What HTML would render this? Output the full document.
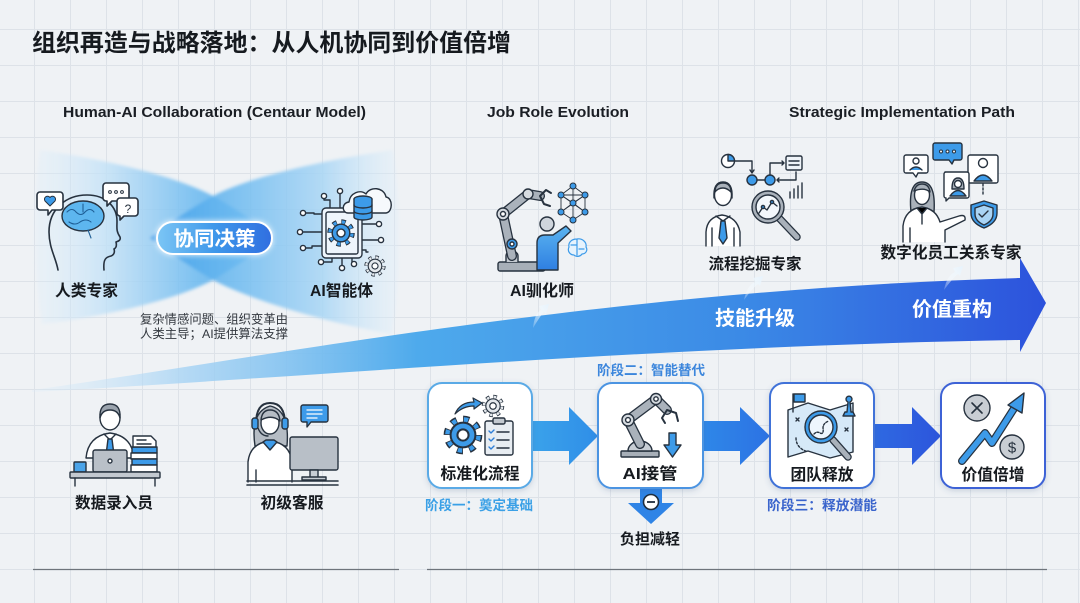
<!DOCTYPE html>
<html><head><meta charset="utf-8">
<style>
html,body{margin:0;padding:0;width:1080px;height:603px;overflow:hidden;background:#eff2f5;}
svg{display:block;}
text{font-family:"Liberation Sans","Noto Sans CJK SC",sans-serif;}
</style></head><body>
<svg width="1080" height="603" viewBox="0 0 1080 603" xmlns="http://www.w3.org/2000/svg">
<defs>
 <pattern id="grid" x="34" y="29" width="36" height="36" patternUnits="userSpaceOnUse">
   <path d="M0 0.5H36M0.5 0V36" stroke="#dde2e8" stroke-width="1" fill="none"/>
 </pattern>
 <linearGradient id="bwL" x1="35" y1="0" x2="280" y2="0" gradientUnits="userSpaceOnUse">
  <stop offset="0" stop-color="#dcedfa" stop-opacity="0.25"/>
  <stop offset="0.3" stop-color="#bfe0f7" stop-opacity="0.8"/>
  <stop offset="0.65" stop-color="#6cbaf0" stop-opacity="0.85"/>
  <stop offset="1" stop-color="#3c9ce8" stop-opacity="0.85"/>
 </linearGradient>
 <linearGradient id="bwR" x1="398" y1="0" x2="150" y2="0" gradientUnits="userSpaceOnUse">
  <stop offset="0" stop-color="#dcedfa" stop-opacity="0.3"/>
  <stop offset="0.3" stop-color="#a9d6f5" stop-opacity="0.85"/>
  <stop offset="0.65" stop-color="#6cbaf0" stop-opacity="0.85"/>
  <stop offset="1" stop-color="#3c9ce8" stop-opacity="0.85"/>
 </linearGradient>
 <filter id="soft" x="-10%" y="-10%" width="120%" height="120%"><feGaussianBlur stdDeviation="1.5"/></filter>
 <linearGradient id="bigA" x1="32" y1="0" x2="1046" y2="0" gradientUnits="userSpaceOnUse">
  <stop offset="0" stop-color="#d6ebfa" stop-opacity="0.2"/>
  <stop offset="0.15" stop-color="#a6d3f4" stop-opacity="0.8"/>
  <stop offset="0.38" stop-color="#4eaaec"/>
  <stop offset="0.7" stop-color="#3b8ae6"/>
  <stop offset="1" stop-color="#2c52dc"/>
 </linearGradient>
 <linearGradient id="pill" x1="0" y1="0" x2="1" y2="0">
  <stop offset="0" stop-color="#7cc6f5"/>
  <stop offset="0.5" stop-color="#3f98ea"/>
  <stop offset="1" stop-color="#2f6ee0"/>
 </linearGradient>
 <linearGradient id="ar1" x1="0" y1="0" x2="1" y2="0">
  <stop offset="0" stop-color="#3ba3ea"/><stop offset="1" stop-color="#2f8ee8"/>
 </linearGradient>
 <linearGradient id="ar2" x1="0" y1="0" x2="1" y2="0">
  <stop offset="0" stop-color="#2f88e8"/><stop offset="1" stop-color="#2c72e4"/>
 </linearGradient>
 <linearGradient id="ar3" x1="0" y1="0" x2="1" y2="0">
  <stop offset="0" stop-color="#2e6ae2"/><stop offset="1" stop-color="#2d55dc"/>
 </linearGradient>
 <linearGradient id="pb" x1="0" y1="0" x2="0" y2="1">
  <stop offset="0" stop-color="#5ab4f0"/><stop offset="1" stop-color="#2f7fe2"/>
 </linearGradient>
 <linearGradient id="hook" x1="0" y1="1" x2="1" y2="0">
  <stop offset="0" stop-color="#ffffff" stop-opacity="0.2"/><stop offset="1" stop-color="#e6f3fd"/>
 </linearGradient>
 <filter id="sh" x="-20%" y="-20%" width="140%" height="150%">
  <feDropShadow dx="0" dy="2" stdDeviation="3" flood-color="#3d5d88" flood-opacity="0.22"/>
 </filter>
 <filter id="glow" x="-20%" y="-40%" width="140%" height="180%">
  <feDropShadow dx="0" dy="0" stdDeviation="3" flood-color="#ffffff" flood-opacity="0.9"/>
 </filter>
 <g id="gearB">
  <circle r="9.5" fill="none" stroke="#27323f" stroke-width="6" stroke-dasharray="3.6 3.86"/>
  <circle r="9.5" fill="none" stroke="#3d9be9" stroke-width="4" stroke-dasharray="2.6 4.86" stroke-dashoffset="-0.5"/>
  <circle r="8" fill="#3d9be9" stroke="#27323f" stroke-width="1.3"/>
  <circle r="3.6" fill="#fff" stroke="#27323f" stroke-width="1.3"/>
 </g>
 <g id="gearG">
  <circle r="9.5" fill="none" stroke="#27323f" stroke-width="6" stroke-dasharray="3.6 3.86"/>
  <circle r="9.5" fill="none" stroke="#e4e8ec" stroke-width="4" stroke-dasharray="2.6 4.86" stroke-dashoffset="-0.5"/>
  <circle r="8" fill="#e4e8ec" stroke="#27323f" stroke-width="1.3"/>
  <circle r="3.6" fill="#fff" stroke="#27323f" stroke-width="1.3"/>
 </g>
</defs>

<rect width="1080" height="603" fill="#eff2f5"/>
<rect width="1080" height="603" fill="url(#grid)"/>

<!-- Title -->
<text x="32" y="51" font-size="24" font-weight="bold" fill="#161a1f" textLength="479" lengthAdjust="spacingAndGlyphs">组织再造与战略落地：从人机协同到价值倍增</text>

<!-- headings -->
<text x="63" y="117" font-size="14.5" font-weight="bold" fill="#1a1e24" textLength="303" lengthAdjust="spacingAndGlyphs">Human-AI Collaboration (Centaur Model)</text>
<text x="487" y="117" font-size="14.5" font-weight="bold" fill="#1a1e24" textLength="142" lengthAdjust="spacingAndGlyphs">Job Role Evolution</text>
<text x="789" y="117" font-size="14.5" font-weight="bold" fill="#1a1e24" textLength="226" lengthAdjust="spacingAndGlyphs">Strategic Implementation Path</text>

<!-- Bowtie -->
<g filter="url(#soft)">
 <path d="M40,150 C110,160 180,178 213,196 C240,211 262,227 276,238 C262,249 240,264 213,280 C180,298 110,316 42,324 C33,270 33,200 40,150 Z" fill="url(#bwL)"/>
 <path d="M393,150 C323,160 246,178 213,196 C186,211 164,227 150,238 C164,249 186,264 213,280 C246,298 323,322 392,334 C401,280 401,200 393,150 Z" fill="url(#bwR)"/>
</g>

<!-- Big arrow -->
<path d="M32,390 C250,360 600,290 1020,278 L1020,258 L1046,303 L1020,352 L1020,340 C650,346 300,378 32,392 Z" fill="url(#bigA)"/>
<text x="755" y="325" font-size="20" font-weight="bold" fill="#ffffff" text-anchor="middle" textLength="80" lengthAdjust="spacingAndGlyphs">技能升级</text>
<text x="952" y="316" font-size="20" font-weight="bold" fill="#ffffff" text-anchor="middle" textLength="80" lengthAdjust="spacingAndGlyphs">价值重构</text>

<!-- hook arrows -->
<g fill="url(#hook)">
 <path d="M533,328 C534,318 537,312 541,310 L539,306 L549,304 L546,314 L544,312 C541,315 538,320 533,328 Z"/>
 <path d="M744,300 C746,290 750,284 755,282 L753,278 L763,276 L760,286 L758,284 C754,287 750,292 744,300 Z"/>
 <path d="M944,290 C946,280 950,274 955,272 L953,268 L963,266 L960,276 L958,274 C954,277 950,282 944,290 Z"/>
</g>

<!-- Pill -->
<rect x="157" y="222" width="115" height="32" rx="16" fill="url(#pill)" stroke="#ffffff" stroke-width="2" filter="url(#glow)"/>
<text x="214.5" y="245.5" font-size="20" font-weight="bold" fill="#ffffff" text-anchor="middle" textLength="82" lengthAdjust="spacingAndGlyphs">协同决策</text>

<!-- Human head icon -->
<g stroke="#27323f" stroke-width="1.6" stroke-linecap="round" stroke-linejoin="round">
 <path d="M58,270 C56,258 49,248 49,232 C49,209 66,195 87,195 C106,195 117,207 117,221 C117,228 116,231 120,237 C121,240 119,241 116,242 C117,246 116,248 114,249 C115,252 114,255 111,256 C106,257 103,259 104,270" fill="none"/>
 <ellipse cx="83" cy="216" rx="21" ry="15" fill="#5db6ef" stroke-width="1.4"/>
 <path d="M67,212 q5,-5 9,0 q5,5 9,0 q5,-5 9,0 M69,222 q6,4 11,0 q6,-4 11,0 M83,204 v8 M88,230 l3,8" fill="none" stroke="#1f5f96" stroke-width="1.1"/>
 <path d="M40,192 h20 a3,3 0 0 1 3,3 v12 a3,3 0 0 1 -3,3 h-8 l-4,5 v-5 h-8 a3,3 0 0 1 -3,-3 v-12 a3,3 0 0 1 3,-3z" fill="#fff"/>
 <path d="M50,206 l-5,-5 a2.8,2.8 0 0 1 5,-3.5 a2.8,2.8 0 0 1 5,3.5 z" fill="#3d9be9" stroke-width="1"/>
 <path d="M106,183 h20 a3,3 0 0 1 3,3 v12 a3,3 0 0 1 -3,3 h-14 l-5,5 v-5 h-1 a3,3 0 0 1 -3,-3 v-12 a3,3 0 0 1 3,-3z" fill="#fff"/>
 <circle cx="110" cy="192" r="1.4" fill="none" stroke-width="1"/><circle cx="116" cy="192" r="1.4" fill="none" stroke-width="1"/><circle cx="122" cy="192" r="1.4" fill="none" stroke-width="1"/>
 <path d="M120,198 h15 a3,3 0 0 1 3,3 v12 a3,3 0 0 1 -3,3 h-11 l-4,4 v-4 a3,3 0 0 1 -3,-3 v-12 a3,3 0 0 1 3,-3z" fill="#fff"/>
</g>
<text x="128" y="213" font-size="12" fill="#27323f" text-anchor="middle">?</text>
<text x="86.5" y="296" font-size="16" font-weight="bold" fill="#161a1f" text-anchor="middle" textLength="63" lengthAdjust="spacingAndGlyphs">人类专家</text>

<!-- AI chip icon -->
<g stroke="#27323f" stroke-width="1.4" fill="none" stroke-linecap="round" stroke-linejoin="round">
 <path d="M322,214 h-8 v-1 h-9 M322,232 h-19 M322,246 h-10 v2 h-6 M330,208 v-8 h-6 v-3 M340,208 v-14 M332,258 v4 h-8 M342,258 v7 M352,258 v4 M362,224 h14 M362,240 h16 M362,250 h4 v2 h2"/>
 <circle cx="303" cy="213" r="2.6" fill="#fff"/><circle cx="300" cy="232" r="2.6" fill="#fff"/><circle cx="303" cy="248" r="2.6" fill="#fff"/>
 <circle cx="324" cy="196" r="2.6" fill="#fff"/><circle cx="340" cy="191" r="2.6" fill="#fff"/>
 <circle cx="321" cy="262" r="2.6" fill="#fff"/><circle cx="342" cy="268" r="2.6" fill="#fff"/><circle cx="354" cy="264" r="2.6" fill="#fff"/>
 <circle cx="379" cy="224" r="2.6" fill="#fff"/><circle cx="381" cy="240" r="2.6" fill="#fff"/>
 <rect x="322" y="208" width="40" height="50" rx="4" fill="#eef5fc"/>
 <rect x="326" y="212" width="32" height="42" rx="2"/>
 <path d="M348,213 C342,213 341,203 349,202 C350,193 360,189 366,194 C370,186 384,187 386,197 C393,198 393,212 386,213 Z" fill="#f6f9fc"/>
 <ellipse cx="363" cy="199" rx="9" ry="3" fill="#3d9be9"/>
 <path d="M354,199 v18 a9,3 0 0 0 18,0 v-18" fill="#3d9be9"/>
 <path d="M354,205 a9,3 0 0 0 18,0 M354,211 a9,3 0 0 0 18,0"/>
</g>
<use href="#gearB" x="341" y="233" transform="translate(-34.1 -23.3) scale(1.1)"/>
<use href="#gearG" transform="translate(375 266) scale(0.85)"/>
<text x="341.5" y="296" font-size="16" font-weight="bold" fill="#161a1f" text-anchor="middle" textLength="63" lengthAdjust="spacingAndGlyphs">AI智能体</text>

<!-- caption -->
<text x="140" y="323.5" font-size="12.3" fill="#33383f" textLength="148" lengthAdjust="spacingAndGlyphs">复杂情感问题、组织变革由</text>
<text x="140" y="338" font-size="12.3" fill="#33383f" textLength="148" lengthAdjust="spacingAndGlyphs">人类主导；AI提供算法支撑</text>

<!-- AI trainer icon -->
<g stroke="#27323f" stroke-width="1.4" stroke-linecap="round" stroke-linejoin="round">
 <rect x="498" y="262" width="47" height="9" rx="2" fill="#a7afb8"/>
 <path d="M506,262 v-6 a6,5 0 0 1 12,0 v6" fill="#c3c9d0"/>
 <path d="M512,256 L503,214 L528,194 L540,196" fill="none" stroke="#27323f" stroke-width="10"/>
 <path d="M512,256 L503,214 L528,194 L540,196" fill="none" stroke="#aab2bb" stroke-width="7.4"/>
 <circle cx="503" cy="214" r="6" fill="#d6dbe0"/><circle cx="503" cy="214" r="2.5" fill="#fff"/>
 <circle cx="528" cy="194" r="5" fill="#d6dbe0"/>
 <circle cx="512" cy="244" r="5" fill="#3d9be9"/><circle cx="512" cy="244" r="2" fill="#fff"/>
 <path d="M540,196 l6,-6 l5,3 M540,196 l4,8 l6,2" fill="none" stroke-width="2"/>
 <path d="M573,186 L561,195 L585,195 Z M561,195 L573,203 L585,195 M561,195 L561,212 L573,220 L585,212 L585,195 M561,212 L573,203 L585,212 M573,186 L573,220 M561,195 L585,212 M585,195 L561,212" fill="none" stroke-width="0.9"/>
 <g fill="#3d9be9" stroke-width="1"><circle cx="573" cy="186" r="3"/><circle cx="561" cy="195" r="3"/><circle cx="585" cy="195" r="3"/><circle cx="573" cy="203" r="3"/><circle cx="561" cy="212" r="3"/><circle cx="585" cy="212" r="3"/><circle cx="573" cy="220" r="3"/></g>
 <circle cx="547" cy="224" r="7" fill="#cfd5dc"/>
 <path d="M537,270 V243 Q537,235 545,235 H553 L566,226 L571,231 L558,243 V270 Z" fill="url(#pb)"/>
 <path d="M577,239 c-6,0 -9,4 -8,8 c-2,4 1,8 5,8 c2,2 6,2 8,-1 c4,0 6,-4 4,-7 c1,-5 -4,-9 -9,-8z M577,239 v16 M571,245 h5 M579,249 h5" fill="#e6f3fd" stroke="#3d9be9" stroke-width="1.2"/>
</g>
<text x="542" y="296" font-size="16" font-weight="bold" fill="#161a1f" text-anchor="middle" textLength="64" lengthAdjust="spacingAndGlyphs">AI驯化师</text>

<!-- Process mining icon -->
<g stroke="#27323f" stroke-width="1.4" stroke-linecap="round" stroke-linejoin="round" fill="none">
 <circle cx="728" cy="161" r="6.5" fill="#fff"/>
 <path d="M728,161 V154.5 A6.5,6.5 0 0 1 734.5,161 Z" fill="#3d9be9"/>
 <path d="M735,161 H752 V172 M750,170 l2,3 l2,-3"/>
 <circle cx="752" cy="180" r="5" fill="#3d9be9"/><circle cx="770" cy="180" r="5" fill="#3d9be9"/>
 <path d="M757,180 H765 M770,175 V163 H784 M782,161 l2,2 l-2,2"/>
 <rect x="786" y="156" width="16" height="14" rx="1.5" fill="#eef3f8"/>
 <path d="M789,161 h10 M789,165 h10"/>
 <path d="M796,172 V180 H777 M779,178 l-2,2 l2,2"/>
 <path d="M790,198 v-6 M794,198 v-9 M798,198 v-12 M802,198 v-15"/>
 <path d="M714,198 Q713,182 723,182 Q733,182 732,198 Q730,188 723,188 Q716,188 714,198Z" fill="#a9b1ba"/>
 <ellipse cx="723" cy="195" rx="8.5" ry="10.5" fill="#fff"/>
 <path d="M715,192 Q715,183 723,183 Q731,183 731,192 Q727,188 723,188 Q718,188 715,192Z" fill="#a9b1ba"/>
 <path d="M706,246 V232 Q707,217 722,215 Q737,217 740,232 V246" fill="#fff"/>
 <path d="M716,216 l7,5 l7,-5 M712,228 v18 M734,228 v18"/>
 <path d="M721,221 h4 l2,17 l-4,6 l-4,-6 z" fill="#3d9be9"/>
 <path d="M780,219 L797,237" stroke="#27323f" stroke-width="7.5"/>
 <path d="M780,219 L797,237" stroke="#a9b1ba" stroke-width="5"/>
 <circle cx="768" cy="207" r="16" fill="#a9b1ba"/>
 <circle cx="768" cy="207" r="12" fill="#f3f7fb"/>
 <path d="M759,213 l4,-6 l4,3 l5,-8 l5,4" stroke="#27323f"/>
 <circle cx="763" cy="207" r="1.6" fill="#3d9be9"/><circle cx="772" cy="202" r="1.6" fill="#3d9be9"/>
</g>
<text x="755" y="269" font-size="15.5" font-weight="bold" fill="#161a1f" text-anchor="middle" textLength="93" lengthAdjust="spacingAndGlyphs">流程挖掘专家</text>

<!-- Digital employee relations icon -->
<g stroke="#27323f" stroke-width="1.4" stroke-linecap="round" stroke-linejoin="round">
 <path d="M906,155 h20 a2,2 0 0 1 2,2 v14 a2,2 0 0 1 -2,2 h-8 l-2,4 l-3,-4 h-7 a2,2 0 0 1 -2,-2 v-14 a2,2 0 0 1 2,-2z" fill="#fff"/>
 <circle cx="916" cy="161" r="3" fill="none"/><path d="M910,170 q6,-6 12,0" fill="#3d9be9"/>
 <path d="M935,143 h25 a2,2 0 0 1 2,2 v13 a2,2 0 0 1 -2,2 h-6 l-2,4 l-3,-4 h-14 a2,2 0 0 1 -2,-2 v-13 a2,2 0 0 1 2,-2z" fill="#3d9be9"/>
 <circle cx="941" cy="151.5" r="1.5" fill="#fff" stroke-width="1"/><circle cx="947.5" cy="151.5" r="1.5" fill="#fff" stroke-width="1"/><circle cx="954" cy="151.5" r="1.5" fill="#fff" stroke-width="1"/>
 <rect x="968" y="155" width="30" height="28" rx="2" fill="#fff"/>
 <circle cx="983" cy="163" r="4.5" fill="#fff"/><path d="M974,181 q9,-12 18,0 z" fill="#3d9be9"/>
 <path d="M983,184 v12" stroke-dasharray="2 2"/>
 <path d="M945,172 h22 a2,2 0 0 1 2,2 v22 a2,2 0 0 1 -2,2 h-18 l-3,3 v-3 a2,2 0 0 1 -2,-2 v-22 a2,2 0 0 1 2,-2z" fill="#fff"/>
 <path d="M952,189 q0,-11 6,-11 q6,0 6,11 z" fill="#a9b1ba"/>
 <circle cx="958" cy="184" r="3.5" fill="#fff"/>
 <path d="M950,196 q8,-11 16,0 z" fill="#3d9be9"/>
 <path d="M984,201 l13,4 v8 q0,10 -13,15 q-13,-5 -13,-15 v-8 z" fill="#3d9be9"/>
 <path d="M984,205 l9,3 v6 q0,7 -9,11 q-9,-4 -9,-11 v-6 z" fill="#a9d4f5"/>
 <path d="M979,214 l3,3 l6,-6" fill="none"/>
 <path d="M911,212 Q908,182 922,182 Q936,182 934,212 Z" fill="#a9b1ba"/>
 <ellipse cx="922" cy="195" rx="7.5" ry="9.5" fill="#fff"/>
 <path d="M914,191 Q916,184 922,184 Q929,184 930,192 Q924,187 914,191Z" fill="#a9b1ba"/>
 <path d="M903,242 V226 Q905,209 922,207 Q936,209 940,222 L959,216 Q966,214 965,220 L945,230 V242" fill="#fff"/>
 <path d="M917,208 l5,6 l5,-6 M910,228 v14 M922,214 v10"/>
</g>
<text x="951" y="258" font-size="15.7" font-weight="bold" fill="#161a1f" text-anchor="middle" textLength="141" lengthAdjust="spacingAndGlyphs">数字化员工关系专家</text>

<!-- Data entry icon -->
<g stroke="#27323f" stroke-width="1.4" stroke-linecap="round" stroke-linejoin="round">
 <path d="M86,458 Q88,436 110,433 Q132,436 134,458 Z" fill="#fff"/>
 <path d="M104,434 l6,6 l6,-6" fill="none"/>
 <path d="M108,439 h4 l1.5,12 l-3.5,4 l-3.5,-4z" fill="#3d9be9"/>
 <ellipse cx="110" cy="418" rx="10" ry="12" fill="#fff"/>
 <path d="M100,418 Q99,404 110,404 Q121,404 120,418 Q118,410 110,410 Q102,410 100,418Z" fill="#9aa3ad"/>
 <rect x="132" y="447" width="25" height="6" fill="#3d9be9"/>
 <rect x="131" y="453" width="26" height="6" fill="#fff"/>
 <rect x="132" y="459" width="25" height="6" fill="#3d9be9"/>
 <rect x="131" y="465" width="26" height="7" fill="#fff"/>
 <path d="M133,436 h18 l5,5 v6 h-23 z" fill="#fff"/>
 <path d="M137,440 h9 M137,444 h14" fill="none"/>
 <rect x="93" y="450" width="34" height="22" rx="2" fill="#b9c0c8"/>
 <circle cx="110" cy="461" r="2" fill="#fff"/>
 <rect x="74" y="462" width="12" height="10" rx="1" fill="#4aa3e8"/>
 <rect x="70" y="472" width="90" height="6" rx="1" fill="#c3c9d0"/>
 <path d="M75,478 v8 M155,478 v8" fill="none"/>
</g>
<text x="114" y="508" font-size="15.6" font-weight="bold" fill="#161a1f" text-anchor="middle" textLength="78" lengthAdjust="spacingAndGlyphs">数据录入员</text>

<!-- Customer service icon -->
<g stroke="#27323f" stroke-width="1.4" stroke-linecap="round" stroke-linejoin="round">
 <path d="M255,446 Q250,412 270,406 Q290,410 287,446 Z" fill="#b5bcc4"/>
 <path d="M248,482 V462 Q250,443 270,441 Q290,443 292,462 V482" fill="#fff"/>
 <path d="M263,442 l7,8 l7,-8 l-3,-2 h-8 z" fill="#3d9be9"/>
 <path d="M256,470 v12" fill="none"/>
 <ellipse cx="270" cy="423" rx="9" ry="11" fill="#fff"/>
 <path d="M261,420 Q262,410 270,410 Q279,410 280,421 Q272,414 261,420Z" fill="#b5bcc4"/>
 <path d="M256,424 Q256,403 270,403 Q285,403 285,424" fill="none" stroke-width="2"/>
 <rect x="252" y="418" width="6" height="11" rx="2.5" fill="#3d9be9"/>
 <rect x="282" y="418" width="6" height="11" rx="2.5" fill="#3d9be9"/>
 <path d="M258,428 Q261,436 268,436" fill="none"/>
 <rect x="290" y="437" width="48" height="33" rx="2" fill="#b8bfc7"/>
 <rect x="310" y="470" width="8" height="8" fill="#c8ced5"/>
 <rect x="302" y="477" width="24" height="3" fill="#c8ced5"/>
 <path d="M247,481 H338 M247,485 H338" fill="none" stroke-width="1.6"/>
 <path d="M303,405 h23 a2,2 0 0 1 2,2 v13 a2,2 0 0 1 -2,2 h-15 l-4,5 v-5 h-4 a2,2 0 0 1 -2,-2 v-13 a2,2 0 0 1 2,-2z" fill="#3d9be9"/>
 <path d="M307,410 h15 M307,414 h15 M307,418 h10" fill="none" stroke="#fff" stroke-width="1.3"/>
</g>
<text x="292" y="508" font-size="15.6" font-weight="bold" fill="#161a1f" text-anchor="middle" textLength="63" lengthAdjust="spacingAndGlyphs">初级客服</text>

<!-- bottom lines -->
<path d="M33,569.5 H399" stroke="#6e747b" stroke-width="1.2"/>
<path d="M427,569.5 H1047" stroke="#6e747b" stroke-width="1.2"/>

<!-- process arrows -->
<path d="M530,421 H569 V407 L598,436 L569,465 V451 H530 Z" fill="url(#ar1)"/>
<path d="M701,421 H740 V407 L770,436 L740,465 V451 H701 Z" fill="url(#ar2)"/>
<path d="M872,424 H912 V407 L941,436 L912,465 V448 H872 Z" fill="url(#ar3)"/>
<!-- down arrow -->
<path d="M640,486 H662 V503 H674 L651,524 L628,503 H640 Z" fill="#2f84e6"/>
<circle cx="651" cy="502" r="7.5" fill="#fff" stroke="#1f2d3d" stroke-width="1.6"/>
<path d="M647,502 h8" stroke="#1f2d3d" stroke-width="1.8"/>

<!-- boxes -->
<rect x="428" y="383" width="104" height="105" rx="14" fill="#fff" stroke="#5aaae6" stroke-width="2" filter="url(#sh)"/>
<rect x="598" y="383" width="105" height="105" rx="14" fill="#fff" stroke="#4c94e2" stroke-width="2" filter="url(#sh)"/>
<rect x="770" y="383" width="104" height="105" rx="14" fill="#fff" stroke="#3f72d8" stroke-width="2" filter="url(#sh)"/>
<rect x="941" y="383" width="104" height="105" rx="14" fill="#fff" stroke="#3c62d6" stroke-width="2" filter="url(#sh)"/>

<!-- box1 icon -->
<use href="#gearG" transform="translate(493 406) scale(0.9)"/>
<use href="#gearB" transform="translate(463 435) scale(1.55)"/>
<path d="M455,414 Q460,402 474,402 L473,398 L482,403 L474,409 L474,406 Q463,406 455,414 Z" fill="#3d9be9" stroke="#27323f" stroke-width="1.2" stroke-linejoin="round"/>
<g stroke="#27323f" stroke-width="1.4" stroke-linecap="round" stroke-linejoin="round">
 <rect x="485" y="421" width="28" height="34" rx="2" fill="#e8edf2"/>
 <rect x="493" y="418" width="12" height="6" rx="1.5" fill="#c3c9d0"/>
 <path d="M489,431 l2,2 l3,-3 M489,439 l2,2 l3,-3 M489,447 l2,2 l3,-3" fill="none" stroke="#2f7fd8"/>
 <path d="M497,432 h12 M497,440 h12 M497,448 h12" fill="none"/>
</g>
<text x="480" y="479" font-size="16" font-weight="bold" fill="#161a1f" text-anchor="middle" textLength="79" lengthAdjust="spacingAndGlyphs">标准化流程</text>
<text x="479" y="510" font-size="13.5" font-weight="bold" fill="#3aa0e6" text-anchor="middle" textLength="108" lengthAdjust="spacingAndGlyphs">阶段一：奠定基础</text>

<!-- box2 icon -->
<g stroke="#27323f" stroke-width="1.4" stroke-linecap="round" stroke-linejoin="round">
 <rect x="621" y="451" width="38" height="6" rx="1" fill="#a7afb8"/>
 <path d="M628,451 a12,10 0 0 1 24,0 z" fill="#c8ced5"/>
 <path d="M640,444 L628,420 L656,399 L667,410" fill="none" stroke-width="10"/>
 <path d="M640,444 L628,420 L656,399 L667,410" fill="none" stroke="#aab2bb" stroke-width="7.4"/>
 <circle cx="628" cy="420" r="6" fill="#d6dbe0"/><circle cx="628" cy="420" r="2.4" fill="#fff"/>
 <circle cx="656" cy="399" r="5.5" fill="#d6dbe0"/><circle cx="656" cy="399" r="2.2" fill="#fff"/>
 <path d="M667,410 l-5,8 l3,5 M667,410 l9,3 l2,8" fill="none" stroke-width="2"/>
 <path d="M669,433 h7 v12 h5 l-8.5,12 l-8.5,-12 h5 z" fill="#3d9be9"/>
</g>
<text x="650" y="479" font-size="16" font-weight="bold" fill="#161a1f" text-anchor="middle" textLength="55" lengthAdjust="spacingAndGlyphs">AI接管</text>
<text x="651" y="375" font-size="13.5" font-weight="bold" fill="#3c86dc" text-anchor="middle" textLength="108" lengthAdjust="spacingAndGlyphs">阶段二：智能替代</text>
<text x="650" y="544" font-size="15" font-weight="bold" fill="#161a1f" text-anchor="middle" textLength="60" lengthAdjust="spacingAndGlyphs">负担减轻</text>

<!-- box3 icon -->
<g stroke="#27323f" stroke-width="1.4" stroke-linecap="round" stroke-linejoin="round">
 <path d="M788,410 L808,403 L830,410 L853,403 L853,452 L830,458 L808,451 L788,457 Z" fill="#d6e9f8"/>
 <path d="M793,412 V394" fill="none"/>
 <rect x="794" y="394" width="11" height="8" fill="#3d9be9"/>
 <path d="M843,416 h12 l-2,-4 h-2 l-1,-10 a3,3 0 1 0 -2,0 l-1,10 h-2 z" fill="#3d9be9"/>
 <path d="M796,418 l3,3 m0,-3 l-3,3 M845,428 l3,3 m0,-3 l-3,3" fill="none"/>
 <path d="M796,438 q0,10 12,14" fill="none" stroke-dasharray="2 2"/>
 <path d="M833,440 L848,457" stroke="#27323f" stroke-width="7.5"/>
 <path d="M833,440 L848,457" stroke="#a9b1ba" stroke-width="5"/>
 <circle cx="821" cy="427" r="16" fill="#3d9be9"/>
 <circle cx="821" cy="427" r="12" fill="#eef6fd"/>
 <path d="M814,434 q3,-3 6,-1 q4,2 3,-5 q0,-5 6,-7" fill="none" stroke-dasharray="2 1.5"/>
</g>
<text x="822" y="480" font-size="16" font-weight="bold" fill="#161a1f" text-anchor="middle" textLength="63" lengthAdjust="spacingAndGlyphs">团队释放</text>
<text x="822" y="510" font-size="13.5" font-weight="bold" fill="#3a64cc" text-anchor="middle" textLength="110" lengthAdjust="spacingAndGlyphs">阶段三：释放潜能</text>

<!-- box4 icon -->
<g stroke="#27323f" stroke-width="1.4" stroke-linecap="round" stroke-linejoin="round">
 <circle cx="977" cy="408" r="13" fill="#c9ced4"/>
 <path d="M972,403 l10,10 m0,-10 l-10,10" fill="none" stroke-width="1.6"/>
 <circle cx="1012" cy="447" r="12" fill="#c9ced4"/>
 <path d="M962,461 L985,433 L992,443 L1015,407" fill="none" stroke-width="8"/>
 <path d="M962,461 L985,433 L992,443 L1015,407" fill="none" stroke="#3d9be9" stroke-width="5.5"/>
 <path d="M1008,405 L1024,393 L1022,413 Z" fill="#3d9be9"/>
</g>
<text x="1012" y="452.5" font-size="15" fill="#27323f" text-anchor="middle">$</text>
<text x="993" y="480" font-size="16" font-weight="bold" fill="#161a1f" text-anchor="middle" textLength="63" lengthAdjust="spacingAndGlyphs">价值倍增</text>

</svg>
</body></html>
